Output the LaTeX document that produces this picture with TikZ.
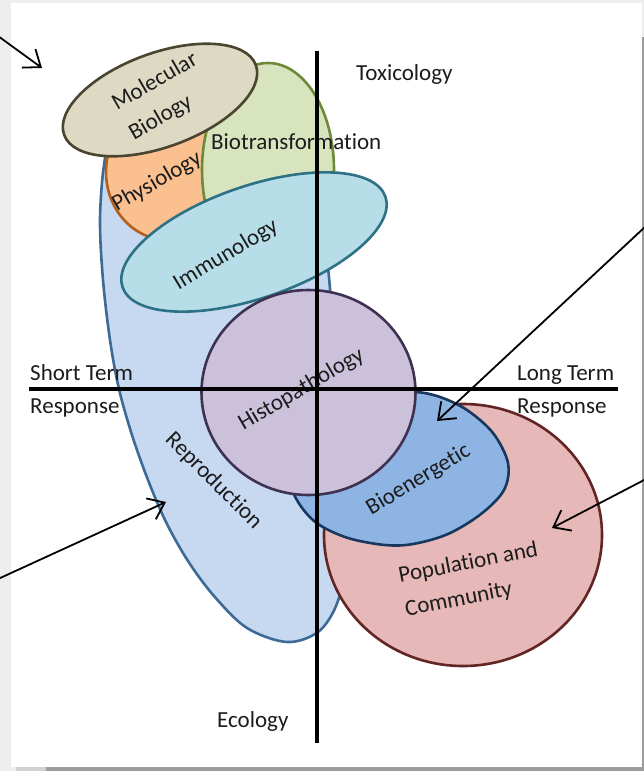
\documentclass[tikz,border=0pt]{standalone}
\usepackage{fontspec}
\setmainfont{Carlito}[Ligatures=NoCommon]
\usetikzlibrary{arrows.meta}

% palette
\definecolor{pagebg}{HTML}{EEEEEE}
\definecolor{shadowgray}{HTML}{9C9C9C}
\definecolor{txt}{HTML}{1C1C1C}
\definecolor{reprofill}{HTML}{C6D9F1}
\definecolor{reprodraw}{HTML}{3E6A96}
\definecolor{popfill}{HTML}{E6B9B8}
\definecolor{popdraw}{HTML}{632523}
\definecolor{bioefill}{HTML}{8EB4E3}
\definecolor{bioedraw}{HTML}{17375E}
\definecolor{physfill}{HTML}{FAC090}
\definecolor{physdraw}{HTML}{B4601C}
\definecolor{biotfill}{HTML}{D7E4BD}
\definecolor{biotdraw}{HTML}{6E8A38}
\definecolor{molfill}{HTML}{DDD9C3}
\definecolor{moldraw}{HTML}{4A4530}
\definecolor{immfill}{HTML}{B7DEE8}
\definecolor{immdraw}{HTML}{2D7185}
\definecolor{histfill}{HTML}{CCC1DA}
\definecolor{histdraw}{HTML}{3F3151}

\begin{document}
\begin{tikzpicture}[x=1pt,y=-1pt,
  every node/.style={inner sep=0pt, text=txt, font=\fontsize{23}{34}\selectfont},
  region/.style={line width=2.6pt},
  axis/.style={line width=4pt, draw=black},
  pointer/.style={line width=1.8pt, draw=black, line cap=round,
    -{Straight Barb[length=15pt,width=23pt,line width=1.8pt]}},
]
\useasboundingbox (0,0) rectangle (644,771);

% page with its frame
\fill[pagebg] (0,0) rectangle (644,771);
\fill[white] (11,3) rectangle (642,767);
\fill[shadowgray!45] (16,767) rectangle (46,771);
\fill[shadowgray] (46,767) rectangle (644,771);
\fill[shadowgray] (642,37) rectangle (644,771);

% Reproduction region
\draw[region, draw=reprodraw, fill=reprofill] plot[smooth cycle, tension=0.55] coordinates {
  (104,165) (100,220) (103,280) (110,340) (119,389) (132,435) (148,480)
  (166,522) (188,561) (214,596) (247,628) (287,642) (318,632) (336,606)
  (344,570) (343,500) (337,400) (331,300) (322,240) (290,180) (220,132)
  (150,125) (112,145)};

% Population and Community
\draw[region, draw=popdraw, fill=popfill] (463,535) ellipse [x radius=139pt, y radius=131pt];

% Bioenergetic
\draw[region, draw=bioedraw, fill=bioefill] plot[smooth cycle, tension=0.55] coordinates {
  (415,392) (440,397) (467,410) (493,433) (508,463) (504,490) (481,514)
  (448,534) (413,544) (385,545) (348,538) (318,524) (300,505) (290,483)
  (292,460) (310,432) (345,408) (385,395)};

% Physiology
\draw[region, draw=physdraw, fill=physfill] (168,172) ellipse [x radius=62pt, y radius=68pt];

% Biotransformation
\draw[region, draw=biotdraw, fill=biotfill] (268,170) ellipse [x radius=66pt, y radius=107pt];

% Molecular Biology
\draw[region, draw=moldraw, fill=molfill, rotate around={20:(160,100)}]
  (160,100) ellipse [x radius=102pt, y radius=47pt];

% Immunology
\draw[region, draw=immdraw, fill=immfill, rotate around={19:(254,242)}]
  (254,242) ellipse [x radius=139pt, y radius=56pt];

% Histopathology
\draw[region, draw=histdraw, fill=histfill] (308.5,392.5) ellipse [x radius=107pt, y radius=102.5pt];

% labels
\node[anchor=base west] (tox) at (356,80) {Toxicology};
\node[anchor=base west] (biot) at (211,149) {Biotransformation};
\node[anchor=base west] (shortterm) at (30,380) {Short Term};
\node[anchor=base west] (shortresp) at (30,413) {Response};
\node[anchor=base west] (longterm) at (517,380) {Long Term};
\node[anchor=base west] (longresp) at (517,413) {Response};
\node[anchor=base west] (eco) at (217,727) {Ecology};
\node[rotate=30, align=left] (mol) at (163.5,96.7) {Molecular\\Biology};
\node[rotate=30] (phys) at (157,182) {Physiology};
\node[rotate=31] (imm) at (226,255) {Immunology};
\node[rotate=30.5] (hist) at (301.5,389.5) {Histopathology};
\node[rotate=31] (bioe) at (418.5,480) {Bioenergetic};
\node[rotate=-45] (repro) at (213.5,481) {Reproduction};
\node[rotate=11, align=left] (pop) at (471.5,580) {Population and\\Community};

% axes
\coordinate (vtop) at (316.5,51);
\coordinate (vbot) at (316.5,743);
\coordinate (hleft) at (29,389);
\coordinate (hright) at (618,389);
\draw[axis] (vtop) -- (vbot);
\draw[axis] (hleft) -- (hright);

% pointers
\coordinate (p1s) at (-2,36);   \coordinate (p1e) at (42,68);
\coordinate (p2s) at (646,226); \coordinate (p2e) at (437,421);
\coordinate (p3s) at (646,479); \coordinate (p3e) at (552,528);
\coordinate (p4s) at (-2,579);  \coordinate (p4e) at (166,502);
\draw[pointer] (p1s) -- (p1e);
\draw[pointer] (p2s) -- (p2e);
\draw[pointer] (p3s) -- (p3e);
\draw[pointer] (p4s) -- (p4e);
\end{tikzpicture}
\end{document}
